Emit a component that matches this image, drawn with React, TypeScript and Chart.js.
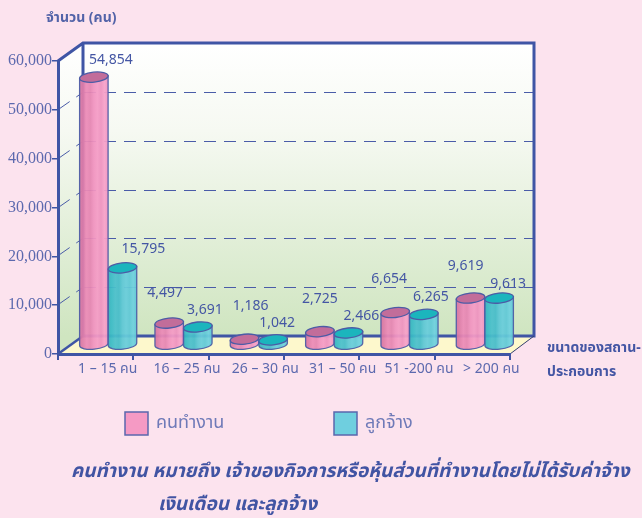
import React, { useEffect, useRef } from "react";
import { Chart, registerables } from "chart.js";

Chart.register(...registerables);

const categories = ["1 – 15 คน", "16 – 25 คน", "26 – 30 คน", "31 – 50 คน", "51 -200 คน", "> 200 คน"];
const ownWorkers = [54854, 4497, 1186, 2725, 6654, 9619];
const employees = [15795, 3691, 1042, 2466, 6265, 9613];
const seriesNames = ["คนทำงาน", "ลูกจ้าง"];
const yTicksMax = 60000;
const yStep = 10000;
const yAxisTitle = "จำนวน (คน)";
const xAxisTitle = ["ขนาดของสถาน-", "ประกอบการ"];
const noteLines = ["คนทำงาน หมายถึง เจ้าของกิจการหรือหุ้นส่วนที่ทำงานโดยไม่ได้รับค่าจ้าง", "เงินเดือน และลูกจ้าง"];

// Styling
const PAGE = "#fce3ee";
const BLUE = "#3f55a5";
const TICK_TEXT = "#5c69ae";
const LABEL_TEXT = "#4456a4";
const SANS = '"Noto Sans", "Noto Sans Thai", "Loma", sans-serif';
const DX = 25;
const DY = -18;
// label nudges relative to the top of each cylinder (dx, dy)
const nudges = [
  [[17, -17], [-4, -30], [6, -33], [0, -33], [-6, -33], [-5, -32]],
  [[21, -19], [7, -17], [4, -17], [13, -17], [7, -17], [9, -14]],
];
const xLabelNudge = [-7, -3, 0, 2, 3, 0];

const bodyStops = [
  ["#d7739f", "#e07eab", "#ec8bb8", "#e585b2", "#f193c0", "#f59cc6", "#ee92bf", "#f7a2ca", "#f092bf"],
  ["#35b3bd", "#3dbcc7", "#4cc0cc", "#46bcc9", "#5ec7d5", "#69cddb", "#60c8d6", "#70d1df", "#5ec6d4"],
];
const topColors = ["#c26d9a", "#1bb5bd"];
const swatches = ["#f59ac4", "#6fcfdf"];

const scene3d = {
  id: "scene3d",
  beforeDraw(chart: any) {
    const { ctx, width, height, chartArea: a, scales } = chart;
    const y = scales.y;
    ctx.save();
    ctx.fillStyle = PAGE;
    ctx.fillRect(0, 0, width, height);
    const backL = a.left + DX;
    const backR = a.right + DX - 1;
    const backT = a.top + DY;
    const backB = a.bottom + DY;
    const grad = ctx.createLinearGradient(0, backT, 0, backB);
    grad.addColorStop(0, "#ffffff");
    grad.addColorStop(0.3, "#f6f9f2");
    grad.addColorStop(1, "#cfe5c0");
    ctx.fillStyle = grad;
    ctx.fillRect(backL, backT, backR - backL, backB - backT);
    ctx.beginPath();
    ctx.moveTo(a.left, a.top);
    ctx.lineTo(backL, backT);
    ctx.lineTo(backL, backB);
    ctx.lineTo(a.left, a.bottom);
    ctx.closePath();
    ctx.fill();
    // floor
    ctx.fillStyle = "#fdf8cc";
    ctx.beginPath();
    ctx.moveTo(a.left, a.bottom);
    ctx.lineTo(backL, backB);
    ctx.lineTo(backR, backB);
    ctx.lineTo(a.right, a.bottom);
    ctx.closePath();
    ctx.fill();
    // dashed grid on walls
    ctx.strokeStyle = "#4a5ca8";
    ctx.lineWidth = 1;
    y.ticks.forEach((t: any) => {
      if (t.value === 0 || t.value === yTicksMax) return;
      const py = Math.round(y.getPixelForValue(t.value));
      ctx.setLineDash([12, 8]);
      ctx.beginPath();
      ctx.moveTo(backL + 1, py + DY + 0.5);
      ctx.lineTo(backR, py + DY + 0.5);
      ctx.stroke();
      ctx.setLineDash([13, 8]);
      ctx.beginPath();
      ctx.moveTo(a.left + 1, py - 1);
      ctx.lineTo(backL - 1, py + DY + 1);
      ctx.stroke();
    });
    ctx.setLineDash([]);
    // frame
    ctx.strokeStyle = BLUE;
    ctx.lineWidth = 3;
    ctx.lineJoin = "miter";
    ctx.beginPath();
    ctx.moveTo(a.left, a.top);
    ctx.lineTo(backL, backT);
    ctx.lineTo(backR, backT);
    ctx.lineTo(backR, backB);
    ctx.lineTo(backL, backB);
    ctx.moveTo(backL, backT);
    ctx.lineTo(backL, backB);
    ctx.stroke();
    ctx.lineWidth = 2.5;
    ctx.beginPath();
    ctx.moveTo(a.left, a.bottom);
    ctx.lineTo(backL, backB);
    ctx.stroke();
    ctx.lineWidth = 1;
    ctx.beginPath();
    ctx.moveTo(a.right, a.bottom);
    ctx.lineTo(backR, backB);
    ctx.strokeStyle = "#33406e";
    ctx.stroke();
    ctx.restore();
  },
  beforeDatasetDraw() {
    return false;
  },
  afterDatasetsDraw(chart: any) {
    const { ctx } = chart;
    const tilt = -0.1;
    const ry = 5;
    const shiftX = DX / 2;
    const shiftY = DY / 2;
    ctx.save();
    [0, 1].forEach((ds) => {
      chart.getDatasetMeta(ds).data.forEach((el: any) => {
        const cx = el.x + shiftX;
        const top = el.y + shiftY;
        const bot = el.base + shiftY;
        const rx = el.width / 2;
        const ex = rx * Math.cos(tilt);
        const ey = rx * Math.sin(tilt);
        const g = ctx.createLinearGradient(cx - rx, 0, cx + rx, 0);
        const stops = bodyStops[ds];
        stops.forEach((c, i) => g.addColorStop(i / (stops.length - 1), c));
        ctx.globalAlpha = 0.94;
        ctx.fillStyle = g;
        ctx.strokeStyle = "#4c5ca6";
        ctx.lineWidth = 1.3;
        ctx.beginPath();
        ctx.moveTo(cx - ex, top - ey);
        ctx.lineTo(cx - ex, bot - ey);
        ctx.ellipse(cx, bot, rx, ry, tilt, Math.PI, 0, true);
        ctx.lineTo(cx + ex, top + ey);
        ctx.closePath();
        ctx.fill();
        ctx.stroke();
        ctx.globalAlpha = 1;
        ctx.fillStyle = topColors[ds];
        ctx.beginPath();
        ctx.ellipse(cx, top, rx, ry, tilt, 0, Math.PI * 2);
        ctx.fill();
        ctx.stroke();
      });
    });
    // value labels
    ctx.font = `14px ${SANS}`;
    ctx.fillStyle = LABEL_TEXT;
    ctx.textAlign = "center";
    ctx.textBaseline = "middle";
    [0, 1].forEach((ds) => {
      const values = chart.data.datasets[ds].data as number[];
      chart.getDatasetMeta(ds).data.forEach((el: any, i: number) => {
        const [nx, ny] = nudges[ds][i];
        ctx.fillText(values[i].toLocaleString("en-US"), el.x + shiftX + nx, el.y + shiftY + ny);
      });
    });
    ctx.restore();
  },
  afterDraw(chart: any) {
    const { ctx, scales } = chart;
    ctx.save();
    ctx.textBaseline = "middle";
    // category labels
    ctx.textAlign = "center";
    ctx.font = `14px ${SANS}`;
    ctx.fillStyle = TICK_TEXT;
    categories.forEach((c, i) => {
      ctx.fillText(c, scales.x.getPixelForValue(i) + 19 + xLabelNudge[i], 369);
    });
    ctx.textAlign = "left";
    ctx.fillStyle = "#5263a8";
    ctx.font = `bold 14px ${SANS}`;
    ctx.fillText(yAxisTitle, 46, 18);
    ctx.fillStyle = "#4456a4";
    ctx.fillText(xAxisTitle[0], 547, 348);
    ctx.fillText(xAxisTitle[1], 547, 372);
    // legend
    [125, 334].forEach((lx, i) => {
      ctx.fillStyle = swatches[i];
      ctx.fillRect(lx, 412, 23, 23);
      ctx.strokeStyle = "#5a67ad";
      ctx.lineWidth = 1.5;
      ctx.strokeRect(lx, 412, 23, 23);
      ctx.fillStyle = "#6f7ab8";
      ctx.font = `18px ${SANS}`;
      ctx.fillText(seriesNames[i], lx + 31, 423);
    });
    // note
    ctx.fillStyle = "#4154a3";
    ctx.font = `italic bold 19px ${SANS}`;
    ctx.fillText(noteLines[0], 71, 472);
    ctx.fillText(noteLines[1], 158, 505);
    ctx.restore();
  },
};

export default function App() {
  const ref = useRef<HTMLCanvasElement>(null);
  useEffect(() => {
    document.body.style.margin = "0";
    const chart = new Chart(ref.current!, {
      type: "bar",
      data: {
        labels: categories,
        datasets: [
          { label: seriesNames[0], data: ownWorkers, backgroundColor: swatches[0], barPercentage: 1, categoryPercentage: 0.76 },
          { label: seriesNames[1], data: employees, backgroundColor: swatches[1], barPercentage: 1, categoryPercentage: 0.76 },
        ],
      },
      options: {
        animation: false,
        responsive: false,
        layout: { padding: { top: 61, right: 132, left: 0, bottom: 0 } },
        plugins: { legend: { display: false }, title: { display: false }, tooltip: { enabled: false } },
        scales: {
          x: {
            afterFit(s: any) { s.height = 164; },
            grid: { drawOnChartArea: false, color: BLUE, lineWidth: 2, tickLength: 6 },
            border: { color: BLUE, width: 3 },
            ticks: { display: false },
          },
          y: {
            min: 0,
            max: yTicksMax,
            afterFit(s: any) { s.width = 58; },
            grid: { drawOnChartArea: false, color: BLUE, lineWidth: 1.5, tickLength: 6 },
            border: { color: BLUE, width: 3 },
            ticks: {
              stepSize: yStep,
              padding: 0,
              color: TICK_TEXT,
              font: { family: '"Liberation Serif", serif', size: 16 },
              callback: (v: any) => Number(v).toLocaleString("en-US"),
            },
          },
        },
      },
      plugins: [scene3d],
    } as any);
    return () => chart.destroy();
  }, []);
  return <canvas ref={ref} width={642} height={518} style={{ display: "block" }} />;
}
